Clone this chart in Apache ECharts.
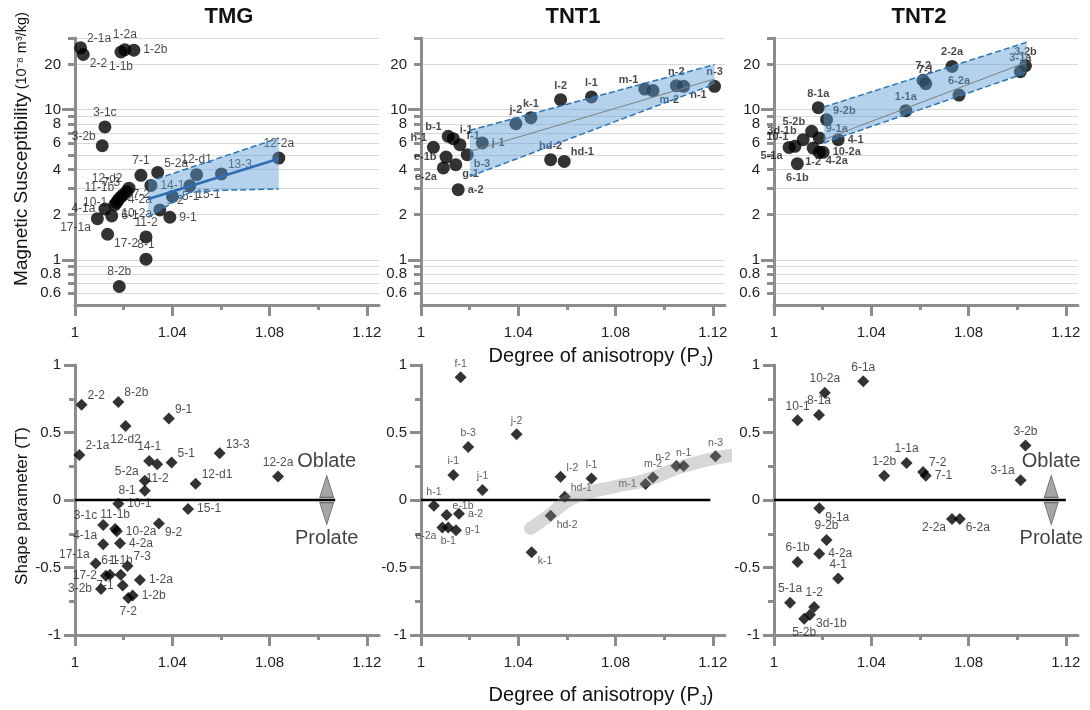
<!DOCTYPE html>
<html>
<head>
<meta charset="utf-8">
<title>AMS scalar parameters</title>
<script src="https://cdn.jsdelivr.net/npm/echarts@6/dist/echarts.min.js"></script>
<style>
  html, body { margin: 0; padding: 0; background: #fff; }
  #chart { width: 1090px; height: 710px; }
</style>
</head>
<body>
<div id="chart"></div>
<script>
// ---- axis ticks ----
const pjMajor = [1, 1.04, 1.08, 1.12];
const pjMinor = [1.02, 1.06, 1.1];
const kGrid = [0.6, 0.7, 0.8, 0.9, 1, 2, 3, 4, 5, 6, 7, 8, 9, 10, 20, 30];
const kDecade = [1, 10];
const kLabel = [0.6, 0.8, 1, 2, 4, 6, 8, 10, 20];
const tMajor = [-1, -0.5, 0, 0.5, 1];
const tMinor = [-0.75, -0.25, 0.25, 0.75];
const panelTitles = ['TMG', 'TNT1', 'TNT2'];

// ---- TMG : susceptibility vs PJ ----
const tmgKName = ['2-1a', '2-2', '1-2a', '1-1b', '1-2b', '3-1c', '3-2b', '12-2a', '7-1', '5-2a', '12-d1', '13-3', '14-1', '15-1', '5-1', '9-2', '9-1', '11-2', '8-1', '8-2b', '17-2', '17-1a', '4-1a', '6-1', '12-d2', '7-3', '7-2', '11-1b', '4-2a', '10-1', '10-2a'];
const tmgKPj = [1.0023, 1.0034, 1.0205, 1.0189, 1.0242, 1.0123, 1.0112, 1.0838, 1.0271, 1.034, 1.05, 1.0602, 1.0312, 1.0472, 1.0401, 1.0349, 1.039, 1.0292, 1.0292, 1.0182, 1.0134, 1.0092, 1.0123, 1.0151, 1.0222, 1.0212, 1.0198, 1.0188, 1.0178, 1.0171, 1.0164];
const tmgK = [25.8, 23.3, 25.1, 24.2, 24.9, 7.67, 5.75, 4.76, 3.65, 3.82, 3.69, 3.73, 3.13, 3.11, 2.64, 2.15, 1.92, 1.42, 1.01, 0.664, 1.48, 1.88, 2.18, 1.96, 3.0, 2.85, 2.71, 2.62, 2.51, 2.41, 2.33];
const tmgFitPj = [1.0301, 1.0838];
const tmgFitK = [2.54, 4.71];
const tmgHiPj = [1.0301, 1.0838];
const tmgHiK = [3.31, 6.47];
const tmgLoPj = [1.0301, 1.0472, 1.0595, 1.0838];
const tmgLoK = [1.92, 2.81, 2.9, 2.96];

// ---- TNT1 : susceptibility vs PJ ----
const tnt1KName = ['h-1', 'b-1', 'i-1', 'f-1', 'j-1', 'b-3', 'e-1b', 'e-2a', 'g-1', 'a-2', 'j-2', 'k-1', 'l-2', 'l-1', 'm-1', 'm-2', 'n-2', 'n-1', 'n-3', 'hd-2', 'hd-1'];
const tnt1KPj = [1.0051, 1.0112, 1.0133, 1.016, 1.0252, 1.019, 1.0103, 1.0092, 1.0143, 1.0153, 1.039, 1.0452, 1.0574, 1.0701, 1.092, 1.0954, 1.105, 1.108, 1.1207, 1.0533, 1.0589];
const tnt1K = [5.61, 6.64, 6.41, 5.84, 6.0, 5.01, 4.83, 4.09, 4.3, 2.93, 8.07, 8.84, 11.66, 12.16, 13.7, 13.4, 14.45, 14.3, 14.3, 4.64, 4.52];
const tnt1FitPj = [1.0201, 1.1207];
const tnt1FitK = [5.27, 16.0];
const tnt1HiPj = [1.0201, 1.1207];
const tnt1HiK = [7.28, 19.95];
const tnt1LoPj = [1.0201, 1.1207];
const tnt1LoK = [3.59, 14.8];

// ---- TNT2 : susceptibility vs PJ ----
const tnt2KName = ['2-2a', '7-2', '7-1', '3-2b', '3-1a', '6-2a', '1-1a', '8-1a', '9-2b', '5-2b', '9-1a', '4-1', '3d-1b', '10-1', '5-1a', '1-2', '6-1b', '4-2a', '10-2a'];
const tnt2KPj = [1.0732, 1.0613, 1.0624, 1.1034, 1.1013, 1.0761, 1.0542, 1.0182, 1.0216, 1.0155, 1.0186, 1.0264, 1.012, 1.0086, 1.0062, 1.0161, 1.0096, 1.0186, 1.0202];
const tnt2K = [19.4, 15.7, 14.9, 19.6, 17.9, 12.5, 9.85, 10.3, 8.58, 7.17, 6.48, 6.31, 6.31, 5.7, 5.6, 5.55, 4.37, 5.2, 5.2];
const tnt2FitPj = [1.0204, 1.1032];
const tnt2FitK = [6.31, 20.5];
const tnt2HiPj = [1.0204, 1.1039];
const tnt2HiK = [10.4, 28.1];
const tnt2LoPj = [1.0204, 1.1039];
const tnt2LoK = [6.0, 17.6];

// ---- TMG : shape parameter vs PJ ----
const tmgTName = ['2-2', '8-2b', '12-d2', '9-1', '2-1a', '14-1', '11-2', '5-1', '13-3', '12-2a', '5-2a', '12-d1', '8-1', '10-1', '15-1', '3-1c', '11-1b', '10-2a', '9-2', '4-1a', '4-2a', '17-1a', '7-3', '6-1', '17-2', '1-1b', '1-2a', '3-2b', '7-1', '1-2b', '7-2'];
const tmgTPj = [1.0027, 1.0178, 1.0208, 1.0386, 1.0018, 1.0305, 1.0338, 1.0397, 1.0595, 1.0835, 1.0287, 1.0496, 1.0287, 1.0178, 1.0465, 1.0116, 1.0165, 1.0172, 1.0345, 1.0116, 1.0185, 1.0085, 1.0216, 1.0144, 1.0127, 1.0188, 1.0267, 1.0107, 1.0196, 1.0237, 1.0219];
const tmgT = [0.705, 0.726, 0.549, 0.603, 0.333, 0.289, 0.265, 0.277, 0.346, 0.174, 0.142, 0.12, 0.068, -0.028, -0.066, -0.186, -0.215, -0.232, -0.174, -0.328, -0.321, -0.471, -0.488, -0.554, -0.562, -0.554, -0.593, -0.659, -0.634, -0.708, -0.725];
const tmgZeroPj = [1, 1.107];
const tmgSignPj = [1.1035, 1.1035];

// ---- TNT1 : shape parameter vs PJ ----
const tnt1TName = ['f-1', 'j-2', 'b-3', 'i-1', 'j-1', 'l-2', 'l-1', 'hd-1', 'hd-2', 'k-1', 'm-1', 'm-2', 'n-2', 'n-1', 'n-3', 'h-1', 'e-1b', 'a-2', 'e-2a', 'b-1', 'g-1'];
const tnt1TPj = [1.0163, 1.0393, 1.0194, 1.0133, 1.0253, 1.0574, 1.0701, 1.0591, 1.0533, 1.0455, 1.0923, 1.0954, 1.105, 1.108, 1.1211, 1.0053, 1.0105, 1.0156, 1.0088, 1.0112, 1.0144];
const tnt1T = [0.91, 0.487, 0.393, 0.185, 0.074, 0.172, 0.159, 0.024, -0.116, -0.387, 0.118, 0.167, 0.251, 0.251, 0.325, -0.042, -0.111, -0.101, -0.204, -0.204, -0.224];
const tnt1TrendPj = [1.045, 1.053, 1.06, 1.068, 1.08, 1.093, 1.107, 1.121, 1.13];
const tnt1TrendT = [-0.21, -0.11, -0.01, 0.05, 0.1, 0.15, 0.245, 0.31, 0.335];
const tnt1ZeroPj = [1, 1.119];

// ---- TNT2 : shape parameter vs PJ ----
const tnt2TName = ['6-1a', '10-2a', '8-1a', '10-1', '3-2b', '1-1a', '7-2', '7-1', '1-2b', '3-1a', '9-1a', '2-2a', '6-2a', '9-2b', '4-2a', '6-1b', '4-1', '5-1a', '1-2', '3d-1b', '5-2b'];
const tnt2TPj = [1.0367, 1.0209, 1.0185, 1.0097, 1.1034, 1.0545, 1.0613, 1.0624, 1.0453, 1.1014, 1.0186, 1.0732, 1.0764, 1.0216, 1.0186, 1.0097, 1.0264, 1.0066, 1.0165, 1.0148, 1.0124];
const tnt2T = [0.879, 0.794, 0.63, 0.591, 0.403, 0.274, 0.208, 0.179, 0.179, 0.147, -0.061, -0.141, -0.141, -0.297, -0.398, -0.459, -0.581, -0.762, -0.793, -0.85, -0.879];
const tnt2ZeroPj = [1, 1.12];
const tnt2SignPj = [1.114, 1.114];

const signT = [0.1, -0.1];
const signText = ['Oblate', 'Prolate'];

// label placement per point (style only)
const tmgKLab = ['tr', 'br', 't', 'b', 'r', 't', 'tl', 't', 't', 'tr', 't', 'tr', 'r', 'br', 'r', 'tr', 'r', 't', 't', 't', 'br', 'bl', 'l', 'r', 'tl', 'tl', 'r', 'tl', 'r', 'l', 'br'];
const tnt1KLab = ['tl', 'tl', 'tr', 'tr', 'r', 'br', 'l', 'bl', 'br', 'r', 't', 't', 't', 't', 'tl', 'br', 't', 'br', 't', 't', 'tr'];
const tnt2KLab = ['t', 't', 't', 't', 't', 't', 't', 't', 'tr', 'tl', 'tr', 'r', 'tl', 'tl', 'bl', 'b', 'b', 'br', 'r'];
const tmgTLab = ['tr', 'tr', 'b', 'tr', 'tr', 't', 'b', 'tr', 'tr', 't', 'tl', 'tr', 'l', 'r', 'r', 'tl', 't', 'r', 'br', 'tl', 'r', 'tl', 'tr', 't', 'l', 't', 'r', 'l', 'l', 'r', 'b'];
const tnt1TLab = ['t', 't', 't', 't', 't', 'tr', 't', 'tr', 'br', 'br', 'l', 't', 'tl', 't', 't', 't', 'tr', 'r', 'bl', 'b', 'r'];
const tnt2TLab = ['t', 't', 't', 't', 't', 't', 'tr', 'r', 't', 'tl', 'br', 'bl', 'br', 't', 'r', 't', 't', 't', 't', 'br', 'b'];

const FONT = '"Liberation Sans", Arial, Helvetica, sans-serif';
const AX = '#8c8c8c';
const lg = Math.log10;
const same = v => v;

const labelPos = {
  t: { position: 'top', distance: 2 },
  b: { position: 'bottom', distance: 2 },
  l: { position: 'left', distance: 3 },
  r: { position: 'right', distance: 3 },
  tl: { position: 'left', distance: 0, offset: [0, -9] },
  tr: { position: 'right', distance: 0, offset: [0, -9] },
  bl: { position: 'left', distance: 0, offset: [0, 9] },
  br: { position: 'right', distance: 0, offset: [0, 9] }
};

const fmtK = v => {
  const k = Math.pow(10, v);
  return k < 1 ? k.toFixed(1) : String(Math.round(k));
};

function pts(names, xs, ys, labs, f) {
  return names.map((n, i) => ({ name: n, value: [xs[i], f(ys[i])], label: labelPos[labs[i]] }));
}

function scatter(g, data, symbol, size, font) {
  return {
    type: 'scatter', xAxisIndex: 2 * g, yAxisIndex: 2 * g, z: 2,
    data: data, symbol: symbol, symbolSize: size,
    itemStyle: { color: '#000' },
    label: Object.assign({ show: true, formatter: '{b}', color: '#1a1a1a', fontFamily: FONT }, font),
    emphasis: { disabled: true }
  };
}

function line(g, xs, ys, f, style, z, extra) {
  return Object.assign({
    type: 'line', xAxisIndex: 2 * g, yAxisIndex: 2 * g, z: z,
    data: xs.map((x, i) => [x, f(ys[i])]),
    symbol: 'none', silent: true, lineStyle: style
  }, extra || {});
}

function band(g, hiX, hiY, loX, loY) {
  return {
    type: 'custom', xAxisIndex: 2 * g, yAxisIndex: 2 * g, z: 3, silent: true,
    data: [[hiX[0], lg(hiY[0])]],
    renderItem: function (params, api) {
      const up = hiX.map((x, i) => api.coord([x, lg(hiY[i])]));
      const lo = loX.map((x, i) => api.coord([x, lg(loY[i])])).reverse();
      return { type: 'polygon', shape: { points: up.concat(lo) }, style: { fill: 'rgba(91,155,213,0.45)' } };
    }
  };
}

function signs(g, xs) {
  return {
    type: 'scatter', xAxisIndex: 2 * g, yAxisIndex: 2 * g, z: 3, silent: true,
    symbol: 'triangle', symbolSize: [14, 22],
    itemStyle: { color: '#8f8f8f', borderColor: '#555', borderWidth: 1 },
    data: xs.map((x, i) => ({
      value: [x, signT[i]], symbolRotate: i ? 180 : 0,
      label: { show: true, formatter: signText[i], position: i ? 'bottom' : 'top', distance: 3,
        fontSize: 20, fontFamily: FONT, color: '#111' }
    }))
  };
}

const dash = { color: '#2e75b6', width: 1.5, type: 'dashed' };
const zero = { color: '#000', width: 2.5 };

// ---- grids and axes ----
const colLeft = [75, 421, 774];
const grids = [], xAxes = [], yAxes = [];
for (let r = 0; r < 2; r++) {
  for (let c = 0; c < 3; c++) {
    const g = r * 3 + c;
    grids.push({ left: colLeft[c], width: 304, top: r ? 365 : 38, height: r ? 270 : 267 });
    xAxes.push({
      type: 'value', gridIndex: g, min: 1, max: 1.125, position: 'bottom',
      axisLine: { onZero: false, lineStyle: { color: AX, width: 3 } },
      axisTick: { customValues: pjMajor, length: 11, lineStyle: { color: AX, width: 3 } },
      axisLabel: { customValues: pjMajor, color: '#222', fontSize: 15, fontFamily: FONT, margin: 20 },
      splitLine: { show: false }
    }, {
      type: 'value', gridIndex: g, min: 1, max: 1.125, position: 'bottom',
      axisLine: { show: false, onZero: false },
      axisTick: { customValues: pjMinor, length: 5, lineStyle: { color: AX, width: 3 } },
      axisLabel: { show: false }, splitLine: { show: false }
    });
    if (r === 0) {
      yAxes.push({
        type: 'value', gridIndex: g, min: lg(0.5), max: lg(30), position: 'left',
        axisLine: { onZero: false, lineStyle: { color: AX, width: 3 } },
        axisTick: { customValues: kGrid.map(lg), length: 7, lineStyle: { color: AX, width: 3 } },
        axisLabel: { customValues: kLabel.map(lg), formatter: fmtK, color: '#222', fontSize: 15, fontFamily: FONT, margin: 14 },
        splitLine: { show: true, lineStyle: { color: '#d9d9d9', width: 1 } }
      }, {
        type: 'value', gridIndex: g, min: lg(0.5), max: lg(30), position: 'left',
        axisLine: { show: false, onZero: false },
        axisTick: { customValues: kDecade.map(lg), length: 13, lineStyle: { color: AX, width: 3 } },
        axisLabel: { show: false }, splitLine: { show: false }
      });
    } else {
      yAxes.push({
        type: 'value', gridIndex: g, min: -1, max: 1, position: 'left',
        axisLine: { onZero: false, lineStyle: { color: AX, width: 3 } },
        axisTick: { customValues: tMajor, length: 11, lineStyle: { color: AX, width: 3 } },
        axisLabel: { customValues: tMajor, color: '#222', fontSize: 15, fontFamily: FONT, margin: 14 },
        splitLine: { show: false }
      }, {
        type: 'value', gridIndex: g, min: -1, max: 1, position: 'left',
        axisLine: { show: false, onZero: false },
        axisTick: { customValues: tMinor, length: 6, lineStyle: { color: AX, width: 3 } },
        axisLabel: { show: false }, splitLine: { show: false }
      });
    }
  }
}

const topFont = { fontSize: 12 };
const boldFont = { fontSize: 11, fontWeight: 'bold' };

const series = [
  // susceptibility panels
  scatter(0, pts(tmgKName, tmgKPj, tmgK, tmgKLab, lg), 'circle', 13, topFont),
  band(0, tmgHiPj, tmgHiK, tmgLoPj, tmgLoK),
  line(0, tmgHiPj, tmgHiK, lg, dash, 4),
  line(0, tmgLoPj, tmgLoK, lg, dash, 4),
  line(0, tmgFitPj, tmgFitK, lg, { color: '#2e6db4', width: 2.5 }, 4),

  scatter(1, pts(tnt1KName, tnt1KPj, tnt1K, tnt1KLab, lg), 'circle', 13, boldFont),
  band(1, tnt1HiPj, tnt1HiK, tnt1LoPj, tnt1LoK),
  line(1, tnt1HiPj, tnt1HiK, lg, dash, 4),
  line(1, tnt1LoPj, tnt1LoK, lg, dash, 4),
  line(1, tnt1FitPj, tnt1FitK, lg, { color: '#7f7f7f', width: 1 }, 4),

  scatter(2, pts(tnt2KName, tnt2KPj, tnt2K, tnt2KLab, lg), 'circle', 13, boldFont),
  band(2, tnt2HiPj, tnt2HiK, tnt2LoPj, tnt2LoK),
  line(2, tnt2HiPj, tnt2HiK, lg, dash, 4),
  line(2, tnt2LoPj, tnt2LoK, lg, dash, 4),
  line(2, tnt2FitPj, tnt2FitK, lg, { color: '#7f7f7f', width: 1 }, 4),

  // shape parameter panels
  line(3, tmgZeroPj, [0, 0], same, zero, 1),
  scatter(3, pts(tmgTName, tmgTPj, tmgT, tmgTLab, same), 'diamond', 12, { fontSize: 12, color: '#222' }),
  signs(3, tmgSignPj),

  line(4, tnt1ZeroPj, [0, 0], same, zero, 1),
  scatter(4, pts(tnt1TName, tnt1TPj, tnt1T, tnt1TLab, same), 'diamond', 12, { fontSize: 10.5, color: '#333' }),
  line(4, tnt1TrendPj, tnt1TrendT, same, { color: 'rgba(140,140,140,0.35)', width: 13, cap: 'round' }, 3, { smooth: true, clip: false }),

  line(5, tnt2ZeroPj, [0, 0], same, zero, 1),
  scatter(5, pts(tnt2TName, tnt2TPj, tnt2T, tnt2TLab, same), 'diamond', 12, { fontSize: 12, color: '#222' }),
  signs(5, tnt2SignPj)
];

const titleX = [229, 573, 919];
const graphic = panelTitles.map((t, i) => ({
  type: 'text', x: titleX[i], y: 17,
  style: { text: t, font: 'bold 22px ' + FONT, fill: '#111', align: 'center', verticalAlign: 'middle', textAlign: 'center', textVerticalAlign: 'middle' }
})).concat([
  {
    type: 'text', x: 22, y: 149, rotation: Math.PI / 2,
    style: {
      text: '{a|Magnetic Susceptibility} {b|(10⁻⁸ m³/kg)}',
      rich: { a: { fontSize: 19, fontFamily: FONT, fill: '#111' }, b: { fontSize: 14.5, fontFamily: FONT, fill: '#111' } },
      align: 'center', verticalAlign: 'middle', textAlign: 'center', textVerticalAlign: 'middle'
    }
  },
  {
    type: 'text', x: 22, y: 506, rotation: Math.PI / 2,
    style: { text: 'Shape parameter (T)', font: '17px ' + FONT, fill: '#111', align: 'center', verticalAlign: 'middle', textAlign: 'center', textVerticalAlign: 'middle' }
  }
]).concat([356, 695].map(y => ({
  type: 'text', x: 601, y: y,
  style: {
    text: '{a|Degree of anisotropy (P}{j|J}{a|)}',
    rich: { a: { fontSize: 20, fontFamily: FONT, fill: '#111' }, j: { fontSize: 14, fontFamily: FONT, fill: '#111', padding: [12, 0, 0, 0] } },
    align: 'center', verticalAlign: 'middle', textAlign: 'center', textVerticalAlign: 'middle'
  }
})));

const chart = echarts.init(document.getElementById('chart'));
chart.setOption({
  animation: false,
  backgroundColor: '#fff',
  grid: grids,
  xAxis: xAxes,
  yAxis: yAxes,
  series: series,
  graphic: graphic
});
</script>
</body>
</html>
